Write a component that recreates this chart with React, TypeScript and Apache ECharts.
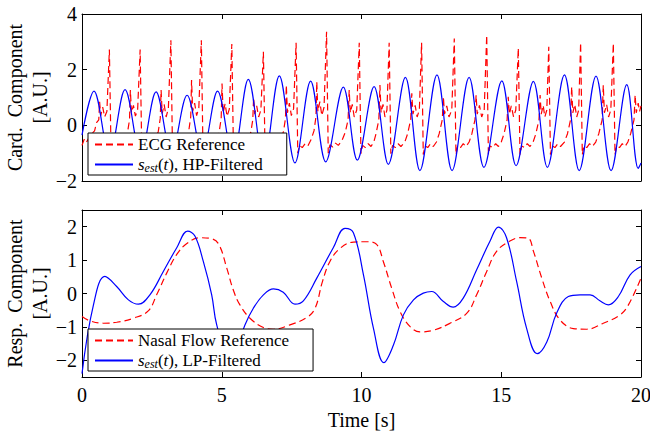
import React, { useEffect, useRef } from "react";
import * as echarts from "echarts";

const FONT = "'Liberation Serif', 'Times New Roman', serif";

const xTicks = [0, 5, 10, 15, 20];
const cardYTicks = [-2, 0, 2, 4];
const respYTicks = [-2, -1, 0, 1, 2];

const seriesNames = ["ECG Reference", "HP", "Nasal Flow Reference", "LP"];

const ecgRef: number[][] = [
  [0, -0.72], [0.08, -0.5], [0.15, -0.62], [0.25, -0.45], [0.35, -0.3], [0.45, -0.2], [0.52, 0.1], [0.6, 0.2], [0.63, 0.85], [0.67, 0.35], [0.74, 0.65], [0.81, 0.3], [0.89, 0.5], [0.98, 2.72], [1.04, -1.0], [1.1, -0.7], [1.2, -0.78], [1.3, -0.66], [1.4, -0.74],
  [1.53, -0.5], [1.63, -0.25], [1.7, 0.2], [1.73, 1.27], [1.77, 0.45], [1.84, 0.72], [1.91, 0.33], [1.99, 0.55], [2.08, 2.72], [2.14, -1.0], [2.2, -0.7], [2.3, -0.8], [2.4, -0.66], [2.5, -0.74],
  [2.63, -0.48], [2.73, -0.22], [2.8, 0.25], [2.83, 1.27], [2.87, 0.42], [2.94, 0.75], [3.01, 0.3], [3.09, 0.6], [3.18, 3.06], [3.24, -1.02], [3.3, -0.72], [3.4, -0.78], [3.5, -0.65], [3.6, -0.75],
  [3.72, -0.5], [3.82, -0.2], [3.89, 0.3], [3.92, 1.63], [3.96, 0.5], [4.03, 0.8], [4.1, 0.35], [4.18, 0.62], [4.27, 3.06], [4.33, -1.0], [4.39, -0.7], [4.49, -0.8], [4.59, -0.66], [4.69, -0.74],
  [4.81, -0.5], [4.91, -0.22], [4.98, 0.25], [5.01, 1.5], [5.05, 0.45], [5.12, 0.78], [5.19, 0.32], [5.27, 0.58], [5.36, 2.92], [5.42, -1.0], [5.48, -0.72], [5.58, -0.8], [5.68, -0.66], [5.78, -0.74],
  [5.94, -0.5], [6.04, -0.25], [6.11, 0.2], [6.14, 1.0], [6.18, 0.4], [6.25, 0.7], [6.32, 0.3], [6.4, 0.55], [6.49, 2.64], [6.55, -1.0], [6.61, -0.72], [6.71, -0.8], [6.81, -0.66], [6.91, -0.74],
  [7.11, -0.5], [7.21, -0.22], [7.28, 0.25], [7.31, 1.45], [7.35, 0.45], [7.42, 0.8], [7.49, 0.35], [7.57, 0.6], [7.66, 2.97], [7.72, -1.0], [7.78, -0.72], [7.88, -0.8], [7.98, -0.66], [8.08, -0.74],
  [8.2, -0.5], [8.3, -0.2], [8.37, 0.3], [8.4, 1.57], [8.44, 0.5], [8.51, 0.85], [8.58, 0.35], [8.66, 0.65], [8.75, 3.36], [8.81, -1.0], [8.87, -0.7], [8.97, -0.78], [9.07, -0.64], [9.17, -0.72],
  [9.3, -0.55], [9.42, -0.25], [9.52, 0.2], [9.56, 1.27], [9.6, 0.45], [9.67, 0.75], [9.74, 0.3], [9.83, 0.55], [9.92, 2.97], [9.98, -1.02], [10.04, -0.72], [10.14, -0.8], [10.24, -0.66], [10.34, -0.76],
  [10.44, -0.6], [10.52, -0.3], [10.62, 0.2], [10.66, 1.45], [10.7, 0.45], [10.77, 0.75], [10.84, 0.3], [10.91, 0.55], [10.99, 2.97], [11.05, -1.02], [11.11, -0.72], [11.21, -0.8], [11.31, -0.66], [11.41, -0.76],
  [11.55, -0.6], [11.65, -0.3], [11.76, 0.2], [11.8, 1.15], [11.84, 0.4], [11.92, 0.72], [11.99, 0.3], [12.07, 0.55], [12.15, 2.97], [12.21, -1.05], [12.27, -0.74], [12.37, -0.8], [12.47, -0.66], [12.57, -0.76],
  [12.68, -0.6], [12.78, -0.3], [12.89, 0.2], [12.93, 1.03], [12.97, 0.4], [13.05, 0.7], [13.13, 0.3], [13.23, 0.55], [13.32, 3.12], [13.38, -1.05], [13.44, -0.74], [13.54, -0.8], [13.64, -0.66], [13.74, -0.76],
  [13.85, -0.6], [13.95, -0.3], [14.06, 0.2], [14.1, 1.09], [14.14, 0.4], [14.22, 0.72], [14.3, 0.3], [14.39, 0.55], [14.48, 3.24], [14.54, -1.05], [14.6, -0.74], [14.7, -0.8], [14.8, -0.66], [14.9, -0.76],
  [15.0, -0.6], [15.1, -0.3], [15.21, 0.2], [15.25, 1.03], [15.29, 0.4], [15.36, 0.7], [15.44, 0.3], [15.52, 0.55], [15.61, 2.77], [15.67, -1.05], [15.73, -0.74], [15.83, -0.8], [15.93, -0.66], [16.03, -0.76],
  [16.14, -0.6], [16.24, -0.3], [16.35, 0.2], [16.39, 1.09], [16.43, 0.4], [16.5, 0.72], [16.56, 0.3], [16.63, 0.55], [16.7, 2.82], [16.76, -1.05], [16.82, -0.74], [16.92, -0.8], [17.02, -0.66], [17.12, -0.76],
  [17.26, -0.6], [17.37, -0.3], [17.48, 0.2], [17.52, 1.39], [17.56, 0.45], [17.63, 0.75], [17.7, 0.3], [17.77, 0.55], [17.84, 2.97], [17.9, -1.05], [17.96, -0.74], [18.06, -0.8], [18.16, -0.66], [18.26, -0.76],
  [18.38, -0.6], [18.49, -0.3], [18.61, 0.2], [18.65, 1.45], [18.69, 0.45], [18.77, 0.75], [18.84, 0.3], [18.92, 0.55], [19.01, 2.95], [19.07, -1.05], [19.13, -0.74], [19.23, -0.8], [19.33, -0.66], [19.43, -0.76],
  [19.53, -0.6], [19.63, -0.3], [19.75, 0.2], [19.79, 1.09], [19.83, 0.45], [19.9, 0.8], [19.95, 0.5], [20, 0.7],
];

const hpEst: number[][] = [
  [0, -0.35], [0.43, 1.23], [0.98, -1.05], [1.54, 1.28], [2.1, -1.05], [2.65, 1.2], [3.2, -1.0], [3.76, 1.08], [4.3, -1.0],
  [4.85, 1.23], [5.4, -1.15], [5.95, 1.65], [6.5, -1.3], [7.06, 1.78], [7.62, -1.35], [8.18, 1.59], [8.72, -1.31],
  [9.35, 1.37], [9.85, -1.25], [10.45, 1.39], [10.96, -1.4], [11.57, 1.72], [12.09, -1.63], [12.7, 1.81], [13.24, -1.63],
  [13.85, 1.72], [14.38, -1.51], [15.02, 1.6], [15.53, -1.45], [16.15, 1.58], [16.65, -1.51], [17.26, 1.81], [17.79, -1.63],
  [18.39, 1.77], [18.93, -1.63], [19.49, 1.46], [19.9, -1.55], [20, -1.35],
];

const nasalRef: number[][] = [
  [0, -0.69], [0.29, -0.82], [0.76, -0.89], [1.24, -0.86], [1.84, -0.74], [2.37, -0.52], [2.67, -0.04], [3.03, 0.61],
  [3.39, 1.17], [3.74, 1.49], [4.22, 1.67], [4.58, 1.65], [4.88, 1.49], [5.18, 0.76], [5.41, 0.11], [5.65, -0.34],
  [6.01, -0.74], [6.49, -1.02], [6.85, -1.07], [7.44, -0.94], [8.04, -0.72], [8.34, -0.44], [8.6, 0.35], [8.87, 0.96],
  [9.23, 1.35], [9.71, 1.54], [10.19, 1.55], [10.54, 1.47], [10.78, 0.96], [11.08, 0.16], [11.38, -0.54], [11.74, -0.99],
  [12.09, -1.15], [12.57, -1.1], [13.17, -0.89], [13.77, -0.59], [14.12, -0.04], [14.48, 0.66], [14.84, 1.27], [15.31, 1.57],
  [15.67, 1.67], [15.97, 1.65], [16.15, 1.27], [16.45, 0.46], [16.75, -0.24], [17.1, -0.79], [17.58, -1.05], [18.06, -1.07],
  [18.65, -0.89], [19.25, -0.64], [19.55, -0.34], [20, 0.46],
];

const lpEst: number[][] = [
  [0, -2.4], [0.41, -0.34], [0.82, 0.51], [1.24, 0.21], [1.66, -0.19], [2.02, -0.32], [2.43, -0.04], [2.91, 0.66],
  [3.39, 1.37], [3.78, 1.87], [4.04, 1.72], [4.34, 0.96], [4.64, -0.04], [4.82, -0.94], [5.3, -2.1], [5.83, -0.94],
  [6.13, -0.44], [6.49, -0.04], [6.85, 0.14], [7.2, 0.04], [7.62, -0.32], [7.92, -0.22], [8.4, 0.46], [8.99, 1.37],
  [9.41, 1.95], [9.71, 1.82], [10.07, 0.56], [10.43, -1.05], [10.8, -2.07], [11.14, -1.55], [11.5, -0.64], [11.86, -0.19],
  [12.21, 0.01], [12.51, 0.06], [12.93, -0.24], [13.28, -0.41], [13.64, -0.14], [14.12, 0.71], [14.6, 1.57], [14.9, 1.99],
  [15.19, 1.67], [15.55, 0.36], [15.91, -1.05], [16.29, -1.8], [16.63, -1.45], [16.98, -0.59], [17.4, -0.09], [17.82, -0.04],
  [18.18, -0.04], [18.53, -0.22], [18.83, -0.34], [19.19, -0.09], [19.61, 0.56], [20, 0.81],
];

const fmtNum = (v: number) => (v < 0 ? "\u2212" + Math.abs(v) : String(v));

const baseText = { fontFamily: FONT, fontSize: 20, color: "#000" };

function xAxisDef(gridIndex: number, position: string, withLabels: boolean) {
  return {
    gridIndex,
    type: "value",
    position,
    min: 0,
    max: 20,
    interval: 5,
    axisLine: { show: true, onZero: false, lineStyle: { color: "#000", width: 1 } },
    axisTick: { show: true, inside: true, length: 5, lineStyle: { color: "#000" }, customValues: xTicks },
    axisLabel: withLabels
      ? { show: true, ...baseText, margin: 8, formatter: fmtNum, customValues: xTicks }
      : { show: false },
    splitLine: { show: false },
  };
}

function yAxisDef(gridIndex: number, position: string, ticks: number[], min: number, max: number, withLabels: boolean, name?: string) {
  return {
    gridIndex,
    type: "value",
    position,
    min,
    max,
    axisLine: { show: true, onZero: false, lineStyle: { color: "#000", width: 1 } },
    axisTick: { show: true, inside: true, length: 5, lineStyle: { color: "#000" }, customValues: ticks },
    axisLabel: withLabels
      ? { show: true, ...baseText, margin: 5, formatter: fmtNum, customValues: ticks }
      : { show: false },
    splitLine: { show: false },
    name: name || "",
    nameLocation: "middle",
    nameRotate: 90,
    nameGap: 30,
    nameMoveOverlap: false,
    nameTextStyle: { ...baseText, lineHeight: 25, align: "center" },
  };
}

const LEG_FS = 17;

const legendRich = {
  n: { fontFamily: FONT, fontSize: LEG_FS, color: "#000", lineHeight: 17 },
  i: { fontFamily: FONT, fontSize: LEG_FS, fontStyle: "italic", color: "#000", lineHeight: 17 },
  sub: { fontFamily: FONT, fontSize: 12, fontStyle: "italic", color: "#000", lineHeight: 11, verticalAlign: "top", padding: [6, 0, 0, 0] },
};

const legendFormatter = (name: string) => {
  if (name === "HP") return "{i|s}{sub|est}{n|(}{i|t}{n|), HP-Filtered}";
  if (name === "LP") return "{i|s}{sub|est}{n|(}{i|t}{n|), LP-Filtered}";
  return "{n|" + name + "}";
};

function legendDef(data: string[], top: number) {
  return {
    data,
    left: 88,
    top,
    orient: "vertical",
    itemWidth: 38,
    itemHeight: 14,
    itemGap: 3,
    padding: [3, 24, 1, 6],
    borderColor: "#000",
    borderWidth: 1,
    borderRadius: 0,
    backgroundColor: "#fff",
    selectedMode: false,
    itemStyle: { opacity: 0 },
    formatter: legendFormatter,
    textStyle: { fontFamily: FONT, fontSize: LEG_FS, color: "#000", lineHeight: 17, rich: legendRich },
  };
}

const RED = "#ff0000";
const BLUE = "#0000ff";

export default function App() {
  const ref = useRef<HTMLDivElement>(null);
  useEffect(() => {
    document.body.style.margin = "0";
    const chart = echarts.init(ref.current!, undefined, { renderer: "svg" });
    const option: any = {
      animation: false,
      backgroundColor: "#fff",
      grid: [
        { left: 82, top: 14, width: 559, height: 167, outerBoundsMode: "none", containLabel: false },
        { left: 82, top: 210, width: 559, height: 167, outerBoundsMode: "none", containLabel: false },
      ],
      xAxis: [
        xAxisDef(0, "bottom", false),
        xAxisDef(0, "top", false),
        {
          ...xAxisDef(1, "bottom", true),
          name: "Time [s]",
          nameLocation: "middle",
          nameGap: 33,
          nameMoveOverlap: false,
          nameTextStyle: { ...baseText },
        },
        xAxisDef(1, "top", false),
      ],
      yAxis: [
        yAxisDef(0, "left", cardYTicks, -2, 4, true, "Card.  Component\n[A.U.]"),
        yAxisDef(0, "right", cardYTicks, -2, 4, false),
        yAxisDef(1, "left", respYTicks, -2.5, 2.5, true, "Resp.  Component\n[A.U.]"),
        yAxisDef(1, "right", respYTicks, -2.5, 2.5, false),
      ],
      legend: [legendDef([seriesNames[0], seriesNames[1]], 133), legendDef([seriesNames[2], seriesNames[3]], 329)],
      series: [
        {
          type: "line", name: seriesNames[0], xAxisIndex: 0, yAxisIndex: 0, data: ecgRef, symbol: "none",
          color: RED, lineStyle: { color: RED, width: 1.2, type: [7, 4] },
        },
        {
          type: "line", name: seriesNames[1], xAxisIndex: 0, yAxisIndex: 0, data: hpEst, symbol: "none", smooth: 0.35,
          color: BLUE, lineStyle: { color: BLUE, width: 1.2 },
        },
        {
          type: "line", name: seriesNames[2], xAxisIndex: 2, yAxisIndex: 2, data: nasalRef, symbol: "none", smooth: 0.4,
          color: RED, lineStyle: { color: RED, width: 1.2, type: [7, 4] },
        },
        {
          type: "line", name: seriesNames[3], xAxisIndex: 2, yAxisIndex: 2, data: lpEst, symbol: "none", smooth: 0.4,
          color: BLUE, lineStyle: { color: BLUE, width: 1.2 },
        },
      ],
    };
    chart.setOption(option);
    return () => chart.dispose();
  }, []);
  return <div ref={ref} style={{ width: 650, height: 437 }} />;
}
